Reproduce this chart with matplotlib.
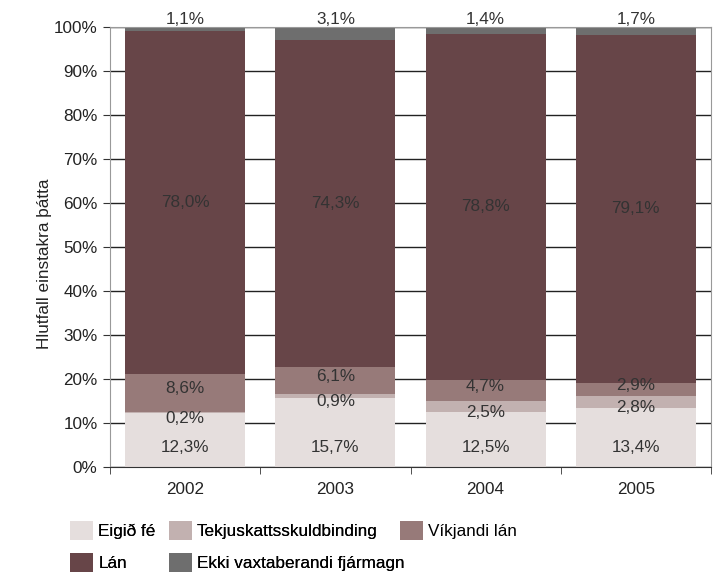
import matplotlib
matplotlib.use("Agg")
import matplotlib.pyplot as plt
import numpy as np

plt.rcParams['font.family'] = ['Liberation Sans', 'DejaVu Sans']

years = ["2002", "2003", "2004", "2005"]
series_names = ["Eigið fé", "Tekjuskattsskuldbinding", "Víkjandi lán", "Lán", "Ekki vaxtaberandi fjármagn"]
eigid_fe = [12.3, 15.7, 12.5, 13.4]
tekjuskatt = [0.2, 0.9, 2.5, 2.8]
vikjandi = [8.6, 6.1, 4.7, 2.9]
lan = [78.0, 74.3, 78.8, 79.1]
ekki_vaxta = [1.1, 3.1, 1.4, 1.7]
yticks = [0, 10, 20, 30, 40, 50, 60, 70, 80, 90, 100]

colors = ["#e5dedd", "#c2b1b0", "#977a79", "#674548", "#6e6e6e"]
series = [eigid_fe, tekjuskatt, vikjandi, lan, ekki_vaxta]

fig = plt.figure(figsize=(7.24, 5.79), dpi=100)
ax = fig.add_axes([0.152, 0.1934, 0.830, 0.760])

x = np.arange(len(years))
bottom = np.zeros(len(years))
bars = []
for vals, col, name in zip(series, colors, series_names):
    v = np.array(vals)
    b = ax.bar(x, v, 0.8, bottom=bottom, color=col, label=name, zorder=2)
    bars.append(b)
    bottom = bottom + v

def fmt(v):
    return f"{v:.1f}%".replace(".", ",")

fs = 12.3
tc = "#333333"
cum = np.zeros(len(years))
label_offsets = {1: -4, 2: 3, 3: 0}
for si, vals in enumerate(series):
    v = np.array(vals)
    for i in range(len(years)):
        if si == 4:
            ax.annotate(fmt(v[i]), (x[i], 100), xytext=(0, 0), textcoords="offset points",
                        ha="center", va="bottom", fontsize=fs, color=tc, annotation_clip=False)
        elif si == 0:
            ax.annotate(fmt(v[i]), (x[i], 4.5), ha="center", va="center",
                        fontsize=fs, color=tc, zorder=5)
        else:
            yc = cum[i] + v[i] / 2
            ax.annotate(fmt(v[i]), (x[i], yc), xytext=(0, label_offsets[si]), textcoords="offset points",
                        ha="center", va="center", fontsize=fs, color=tc, zorder=5)
    cum = cum + v

ax.set_xlim(-0.5, len(years) - 0.5)
ax.set_ylim(0, 100)
ax.set_yticks(yticks)
ax.set_yticklabels([f"{t}%" for t in yticks], fontsize=fs, color="#222222")
ax.set_xticks(x)
ax.set_xticklabels(years, fontsize=fs, color="#222222")
ax.tick_params(axis="x", length=0, pad=11)
ax.set_xticks(np.arange(len(years) + 1) - 0.5, minor=True)
ax.tick_params(axis="x", which="minor", length=5, direction="out", color="#333333")
ax.tick_params(axis="y", length=5, direction="out", color="#333333", pad=4)
ax.yaxis.grid(True, color="#222222", linewidth=1.0, zorder=0)
ax.set_axisbelow(True)
for s in ["left", "right", "top"]:
    ax.spines[s].set_color("#999999")
ax.spines["bottom"].set_color("#333333")
ax.set_ylabel("Hlutfall einstakra þátta", fontsize=fs, color="#222222")
ax.yaxis.set_label_coords(-0.097, 0.461)

leg_kw = dict(loc="upper left", frameon=False, fontsize=fs, handlelength=1.35, handleheight=1.35,
              handletextpad=0.3, labelspacing=0.74, borderaxespad=0, borderpad=0)
handles1 = [bars[0], bars[3], bars[1], bars[4]]
labels1 = [series_names[0], series_names[3], series_names[1], series_names[4]]
leg1 = fig.legend(handles1, labels1, ncol=2, bbox_to_anchor=(0.097, 0.100),
                  columnspacing=0.75, **leg_kw)
fig.legend([bars[2]], [series_names[2]], ncol=1, bbox_to_anchor=(0.552, 0.100), **leg_kw)
fig.add_artist(leg1)

fig.savefig("out.png", dpi=100)
